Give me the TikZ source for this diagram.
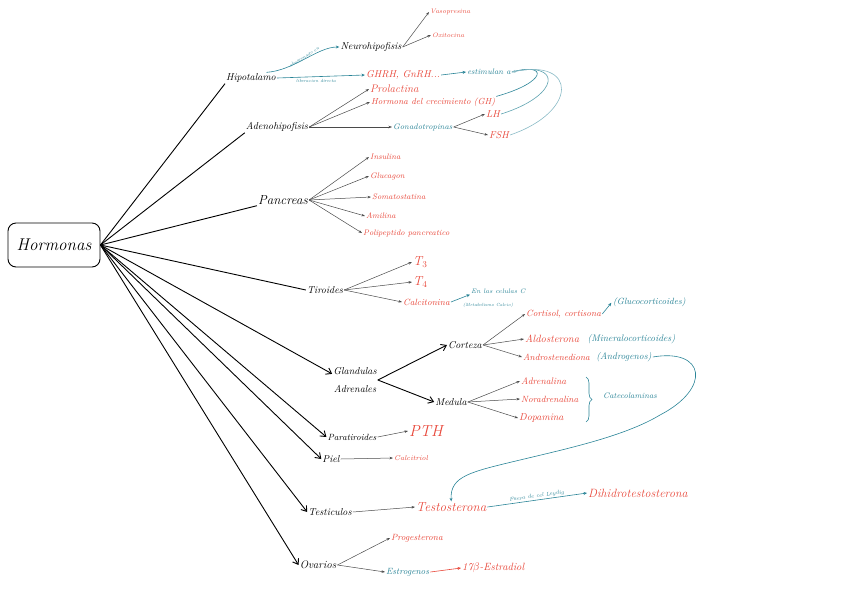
\documentclass[tikz,border=0pt]{standalone}
\usepackage{amsmath}
\usepackage[dvipsnames]{xcolor}
\usepackage{tikz}
\usetikzlibrary{arrows.meta,decorations.pathreplacing,positioning}

\definecolor{hred}{HTML}{E8483B}
\definecolor{hteal}{HTML}{2A8497}
\definecolor{hgray}{HTML}{4A4A4A}

\begin{document}
\begin{tikzpicture}[x=1pt,y=-1pt,
org/.style={font=\itshape\fontsize{10}{11}\selectfont,inner sep=1pt},
hor/.style={text=hred,font=\itshape\fontsize{8}{9}\selectfont,inner sep=1pt},
nota/.style={text=hteal,font=\itshape\fontsize{8}{9}\selectfont,inner sep=1pt},
mini/.style={text=hteal,font=\itshape\fontsize{4.5}{5}\selectfont,inner sep=1pt},
tallo/.style={line width=0.9pt},
rama/.style={tallo,-{Straight Barb[length=5pt,width=7pt]}},
flecha/.style={hgray,line width=0.5pt,-{Stealth[length=3.5pt,width=2.5pt]}},
enlace/.style={hteal,line width=0.6pt,-{Stealth[length=3.5pt,width=3pt]}}]
\useasboundingbox (0,0) rectangle (848,600);

\node[draw,rounded corners=8pt,line width=0.9pt,minimum width=92pt,minimum height=44pt,font=\itshape\fontsize{17}{18}\selectfont] (horm) at (54,245) {Hormonas};

\node[org] (hipo) at (251,78) {Hipotalamo};
\node[org] (neuro) at (371,47) {Neurohipofisis};
\node[hor,anchor=west,font=\itshape\fontsize{6.5}{7}\selectfont] (vaso) at (429,12) {Vasopresina};
\node[hor,anchor=west,font=\itshape\fontsize{6.5}{7}\selectfont] (oxi) at (431,35) {Oxitocina};
\node[hor,font=\itshape\fontsize{10}{11}\selectfont] (ghrh) at (403,75) {GHRH, GnRH...};
\node[nota] (estim) at (489,72) {estimulan a};
\node[org] (adeno) at (277,127) {Adenohipofisis};
\node[hor,anchor=west,font=\itshape\fontsize{11}{12}\selectfont] (prol) at (369,89) {Prolactina};
\node[hor,anchor=west,font=\itshape\fontsize{8.8}{10}\selectfont] (gh) at (370,102) {Hormona del crecimiento (GH)};
\node[nota,anchor=west] (gona) at (392,127) {Gonadotropinas};
\node[hor,anchor=west,font=\itshape\fontsize{10}{11}\selectfont] (lh) at (485,114) {LH};
\node[hor,anchor=west,font=\itshape\fontsize{10}{11}\selectfont] (fsh) at (488,135) {FSH};

\node[org,font=\itshape\fontsize{13}{14}\selectfont] (panc) at (283,200) {Pancreas};
\foreach \n/\x/\y/\t in {ins/369/157/Insulina,gluc/369/176/Glucagon,soma/371/197/Somatostatina,amil/365/216/Amilina,poli/362/233/Polipeptido pancreatico} {
   \node[hor,anchor=west] (\n) at (\x,\y) {\t};
   \draw[flecha] (panc.east) -- (\n.west);
}

\node[org] (tiro) at (325,290) {Tiroides};
\node[hor,anchor=west,font=\itshape\fontsize{13}{14}\selectfont] (t3) at (412,262) {T$_3$};
\node[hor,anchor=west,font=\itshape\fontsize{13}{14}\selectfont] (t4) at (412,282) {T$_4$};
\node[hor,anchor=west,font=\itshape\fontsize{9}{10}\selectfont] (calci) at (402,302) {Calcitonina};
\node[nota,anchor=west,font=\itshape\fontsize{6.5}{7}\selectfont] (celc) at (470,291) {En las celulas C};
\node[mini,anchor=west] (meta) at (462,305) {(Metabolismo Calcio)};

\node[org,align=center,font=\itshape\fontsize{10}{18}\selectfont] (glan) at (355,380) {Glandulas\\Adrenales};
\node[org] (corteza) at (465,345) {Corteza};
\node[org] (medula) at (451,402) {Medula};
\node[hor,anchor=west,font=\itshape\fontsize{9}{10}\selectfont] (cortisol) at (525,314) {Cortisol, cortisona};
\node[nota,anchor=west,font=\itshape\fontsize{9}{10}\selectfont] (gluco) at (612,302) {(Glucocorticoides)};
\node[hor,anchor=west,font=\itshape\fontsize{10.5}{11}\selectfont] (aldo) at (524,339) {Aldosterona};
\node[nota,font=\itshape\fontsize{9.5}{10}\selectfont,right=6pt of aldo] (mineral) {(Mineralocorticoides)};
\node[hor,anchor=west,font=\itshape\fontsize{9}{10}\selectfont] (andro) at (522,357) {Androstenediona};
\node[nota,font=\itshape\fontsize{9.5}{10}\selectfont,right=4pt of andro] (andrg) {(Androgenos)};
\node[hor,anchor=west,font=\itshape\fontsize{9.5}{10}\selectfont] (adren) at (520,381) {Adrenalina};
\node[hor,anchor=west,font=\itshape\fontsize{9}{10}\selectfont] (noradr) at (520,399) {Noradrenalina};
\node[hor,anchor=west,font=\itshape\fontsize{10}{11}\selectfont] (dopa) at (518,418) {Dopamina};
\node[nota,anchor=west] (cateco) at (602,396) {Catecolaminas};

\node[org,font=\itshape\fontsize{9}{10}\selectfont] (parat) at (352,437) {Paratiroides};
\node[hor,anchor=west,font=\itshape\fontsize{16}{17}\selectfont] (pth) at (408,431) {PTH};
\node[org] (piel) at (331,459) {Piel};
\node[hor,anchor=west,font=\itshape\fontsize{7}{8}\selectfont] (calcit) at (393,458) {Calcitriol};
\node[org] (testic) at (330,512) {Testiculos};
\node[hor,anchor=west,font=\itshape\fontsize{13}{14}\selectfont] (testo) at (415,507) {Testosterona};
\node[hor,anchor=west,font=\itshape\fontsize{12}{13}\selectfont] (dht) at (587,493) {Dihidrotestosterona};
\node[org,font=\itshape\fontsize{11}{12}\selectfont] (ovar) at (318,565) {Ovarios};
\node[hor,anchor=west,font=\itshape\fontsize{9}{10}\selectfont] (proge) at (390,538) {Progesterona};
\node[nota,anchor=west,font=\itshape\fontsize{9}{10}\selectfont] (estro) at (385,572) {Estrogenos};
\node[hor,anchor=west,font=\itshape\fontsize{10.5}{11}\selectfont] (estrad) at (461,568) {17$\beta$-Estradiol};

\foreach \n in {hipo,adeno,panc} {
   \draw[tallo] (horm.east) -- (\n.south west);
}
\draw[tallo] (horm.east) -- (tiro.west);
\draw[rama] (horm.east) -- (glan.165);
\foreach \n in {parat,piel,testic,ovar} {
   \draw[rama] (horm.east) -- (\n.west);
}

\draw[enlace] (hipo.20) .. controls +(28,-2) and +(-22,0) .. (neuro.west);
\node[mini,rotate=32,inner sep=0pt] (alma) at (304,57) {almacenado en};
\draw[enlace] (hipo.east) -- (ghrh.west);
\node[mini] (libe) at (316,81) {liberacion directa};
\draw[flecha] (neuro.east) -- (vaso.west);
\draw[flecha] (neuro.east) -- (oxi.west);
\draw[enlace] (ghrh.east) -- (estim.west);
\foreach \n in {prol,gh,gona} {
   \draw[flecha] (adeno.east) -- (\n.west);
}
\draw[flecha] (gona.east) -- (lh.west);
\draw[flecha] (gona.east) -- (fsh.west);
\draw[hteal,line width=0.6pt] (gh.north east) .. controls (548,82) and (548,62) .. (estim.east);
\draw[hteal!75,line width=0.6pt] (lh.east) .. controls (562,95) and (562,60) .. (estim.east);
\draw[enlace,hteal!55] (fsh.east) .. controls (578,112) and (578,58) .. (estim.east);

\foreach \n in {t3,t4,calci} {
   \draw[flecha] (tiro.east) -- (\n.west);
}
\draw[enlace] (calci.east) -- (celc.south west);

\draw[rama] (glan.east) -- (corteza.west);
\draw[rama] (glan.east) -- (medula.west);
\foreach \n in {cortisol,aldo,andro} {
   \draw[flecha] (corteza.east) -- (\n.west);
}
\foreach \n in {adren,noradr,dopa} {
   \draw[flecha] (medula.east) -- (\n.west);
}
\draw[enlace,shorten >=1pt] (cortisol.east) -- (gluco.west);
\draw[hteal,line width=0.6pt,decorate,decoration={brace,amplitude=6pt}] (586,377) -- (586,422);

\draw[flecha] (parat.east) -- (pth.west);
\draw[flecha] (piel.east) -- (calcit.west);
\draw[flecha] (testic.east) -- (testo.west);
\draw[enlace] (testo.east) -- (dht.west) node[mini,font=\itshape\fontsize{5.5}{6}\selectfont,midway,above,sloped] {Fuera de cel Leydig};
\draw[flecha] (ovar.east) -- (proge.west);
\draw[flecha] (ovar.east) -- (estro.west);
\draw[hred,line width=0.6pt,-{Stealth[length=3.5pt,width=3pt]}] (estro.east) -- (estrad.west);

\draw[enlace] (andrg.east) .. controls (705,348) and (712,388) .. (660,415)
   .. controls (625,436) and (570,448) .. (520,460)
   .. controls (470,472) and (450,476) .. (testo.north);
\end{tikzpicture}
\end{document}
